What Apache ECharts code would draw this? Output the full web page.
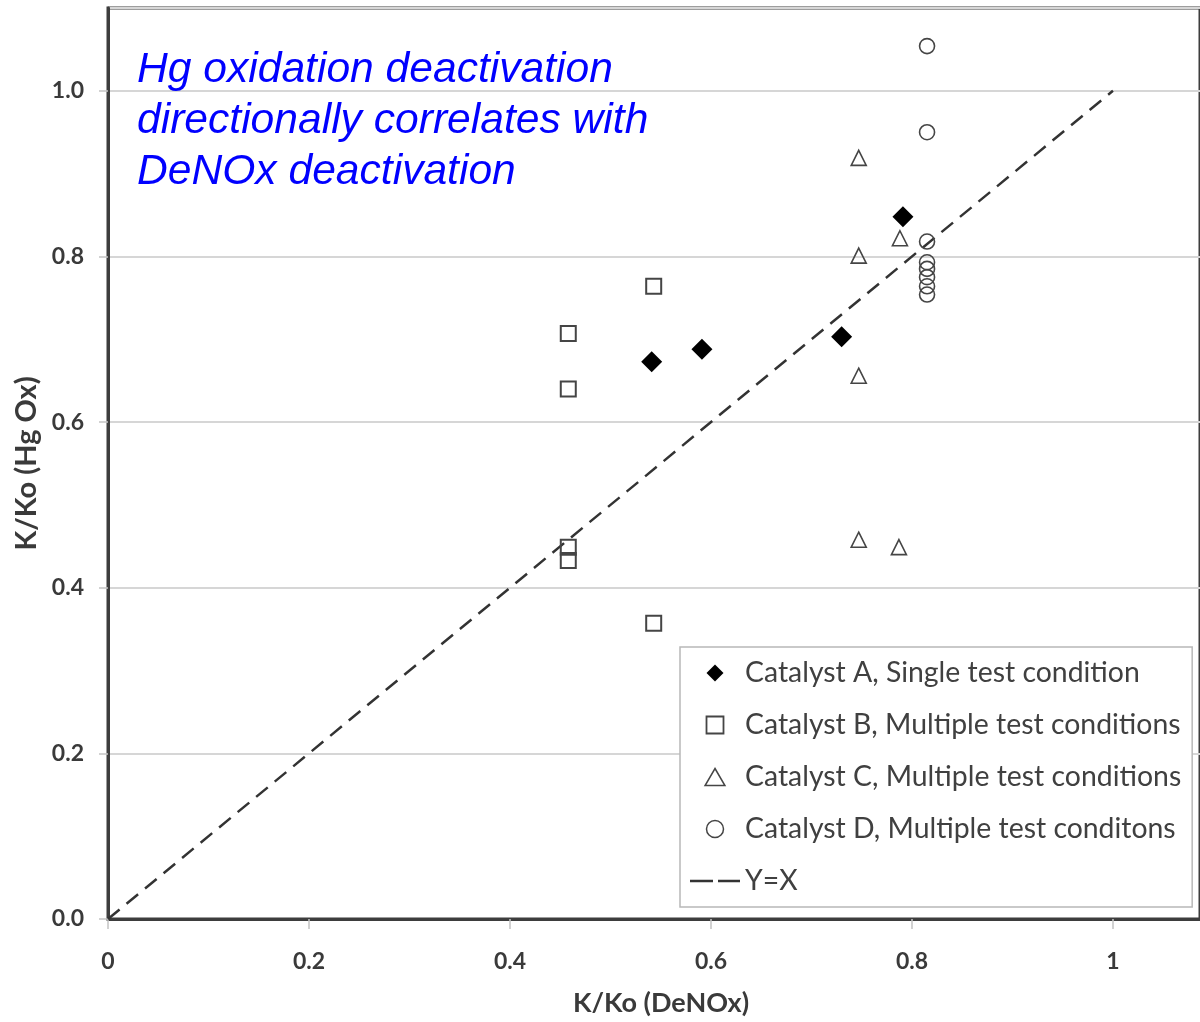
<!DOCTYPE html>
<html>
<head>
<meta charset="utf-8">
<script src="https://cdn.jsdelivr.net/npm/echarts@6/dist/echarts.min.js"></script>
<style>html,body{margin:0;padding:0;background:#fff;}#chart{width:1200px;height:1022px;}</style>
</head>
<body>
<div id="chart"></div>
<script>
// ---- data ----
const seriesNames = [
  'Catalyst A, Single test condition',
  'Catalyst B, Multiple test conditions',
  'Catalyst C, Multiple test conditions',
  'Catalyst D, Multiple test conditons',
  'Y=X'
];
const catalystA = [[0.541, 0.673], [0.591, 0.688], [0.730, 0.703], [0.791, 0.848]];
const catalystB = [[0.543, 0.764], [0.458, 0.707], [0.458, 0.640], [0.458, 0.449], [0.458, 0.433], [0.543, 0.357]];
const catalystC = [[0.747, 0.919], [0.788, 0.822], [0.747, 0.801], [0.747, 0.656], [0.747, 0.458], [0.787, 0.449]];
const catalystD = [[0.815, 1.054], [0.815, 0.950], [0.815, 0.818], [0.815, 0.793], [0.815, 0.785], [0.815, 0.775], [0.815, 0.764], [0.815, 0.754]];
const identityLine = [[0, 0], [1, 1]];
const xTickLabels = {0: '0', 0.2: '0.2', 0.4: '0.4', 0.6: '0.6', 0.8: '0.8', 1: '1'};
const yTickLabels = {0: '0.0', 0.2: '0.2', 0.4: '0.4', 0.6: '0.6', 0.8: '0.8', 1: '1.0'};
const titleText = 'Hg oxidation deactivation\ndirectionally correlates with\nDeNOx deactivation';
const xTitle = 'K/Ko (DeNOx)';
const yTitle = 'K/Ko (Hg Ox)';

// ---- chart ----
const chart = echarts.init(document.getElementById('chart'), null, {renderer: 'canvas'});
const labelFont = 'Lato';
const axisLabelStyle = {fontFamily: labelFont, fontWeight: 'bold', fontSize: 23, color: '#3a3a3a'};
const markerBorder = '#454545';
function lbl(map, v) {
  const k = Math.round(v * 10) / 10;
  return map[k] !== undefined ? map[k] : '';
}
const dashIcon = 'path://M0,0 H23 V2.6 H0 Z M28,0 H50 V2.6 H28 Z';
const diamondIcon = 'path://M8,0 L16,8 L8,16 L0,8 Z';
const squareIcon = 'path://M0,0 H15 V15 H0 Z';
const triangleIcon = 'path://M7,0 L14,12 L0,12 Z';
chart.setOption({
  animation: false,
  backgroundColor: '#ffffff',
  title: {
    text: titleText,
    left: 137, top: 45, padding: 0,
    textStyle: {fontFamily: 'Liberation Sans', fontStyle: 'italic', fontWeight: 'normal', fontSize: 42.6, lineHeight: 51, color: '#0000ff'}
  },
  grid: {left: 108, top: 8, right: 0, height: 911, show: true, borderColor: '#3d3d3d', borderWidth: 3, backgroundColor: 'transparent'},
  legend: {
    orient: 'vertical', left: 680, top: 647,
    padding: [11, 11, 11, 10],
    backgroundColor: '#ffffff', borderColor: '#b8b8b8', borderWidth: 1.5, borderRadius: 0,
    itemWidth: 50, itemHeight: 17, itemGap: 22,
    symbolKeepAspect: true,
    textStyle: {fontFamily: labelFont, fontSize: 28.4, lineHeight: 30, color: '#404040'},
    data: [
      {name: seriesNames[0], icon: diamondIcon, itemStyle: {color: '#000000', opacity: 1}},
      {name: seriesNames[1], icon: squareIcon, itemStyle: {color: 'rgba(255,255,255,0)', borderColor: markerBorder, borderWidth: 1.8, opacity: 1}},
      {name: seriesNames[2], icon: triangleIcon, itemStyle: {color: 'rgba(255,255,255,0)', borderColor: markerBorder, borderWidth: 1.5, opacity: 1}},
      {name: seriesNames[3], icon: 'circle', itemStyle: {color: 'rgba(255,255,255,0)', borderColor: markerBorder, borderWidth: 1.5, opacity: 1}},
      {name: seriesNames[4], icon: dashIcon, itemStyle: {color: '#333333', borderWidth: 0, opacity: 1}}
    ],
    selectedMode: false
  },
  xAxis: {
    type: 'value', min: 0, max: 1.0866, interval: 0.2,
    name: xTitle, nameLocation: 'middle', nameGap: 71,
    nameTextStyle: {fontFamily: labelFont, fontWeight: 'bold', fontSize: 27, color: '#3a3a3a', padding: [0, 0, 0, 14]},
    axisLine: {show: true, lineStyle: {color: '#3d3d3d', width: 3}},
    axisTick: {show: true, length: 10, lineStyle: {color: '#c4c4c4', width: 1.5}},
    axisLabel: Object.assign({margin: 31, showMaxLabel: false, formatter: v => lbl(xTickLabels, v)}, axisLabelStyle),
    splitLine: {show: false}
  },
  yAxis: {
    type: 'value', min: 0, max: 1.1, interval: 0.2,
    name: yTitle, nameLocation: 'middle', nameGap: 64,
    nameTextStyle: {fontFamily: labelFont, fontWeight: 'bold', fontSize: 29, color: '#3a3a3a'},
    axisLine: {show: true, lineStyle: {color: '#3d3d3d', width: 3}},
    axisTick: {show: true, length: 9, lineStyle: {color: '#c4c4c4', width: 1.5}},
    axisLabel: Object.assign({margin: 24, showMaxLabel: false, formatter: v => lbl(yTickLabels, v)}, axisLabelStyle),
    splitLine: {show: true, lineStyle: {color: '#d6d6d6', width: 2}}
  },
  series: [
    {
      name: seriesNames[0], type: 'scatter', data: catalystA,
      symbol: 'diamond', symbolSize: 21, z: 4,
      itemStyle: {color: '#000000', borderWidth: 0, opacity: 1}
    },
    {
      name: seriesNames[1], type: 'scatter', data: catalystB,
      symbol: 'rect', symbolSize: 15, z: 3,
      itemStyle: {color: 'rgba(255,255,255,0)', borderColor: markerBorder, borderWidth: 2, opacity: 1}
    },
    {
      name: seriesNames[2], type: 'scatter', data: catalystC,
      symbol: 'triangle', symbolSize: 15, z: 3,
      itemStyle: {color: 'rgba(255,255,255,0)', borderColor: markerBorder, borderWidth: 1.6, opacity: 1}
    },
    {
      name: seriesNames[3], type: 'scatter', data: catalystD,
      symbol: 'circle', symbolSize: 15, z: 3,
      itemStyle: {color: 'rgba(255,255,255,0)', borderColor: markerBorder, borderWidth: 1.6, opacity: 1}
    },
    {
      name: seriesNames[4], type: 'line', data: identityLine,
      symbol: 'none', z: 2,
      itemStyle: {color: '#333333'},
      lineStyle: {color: '#333333', width: 2.5, type: [15, 9]}
    }
  ]
});
</script>
</body>
</html>
